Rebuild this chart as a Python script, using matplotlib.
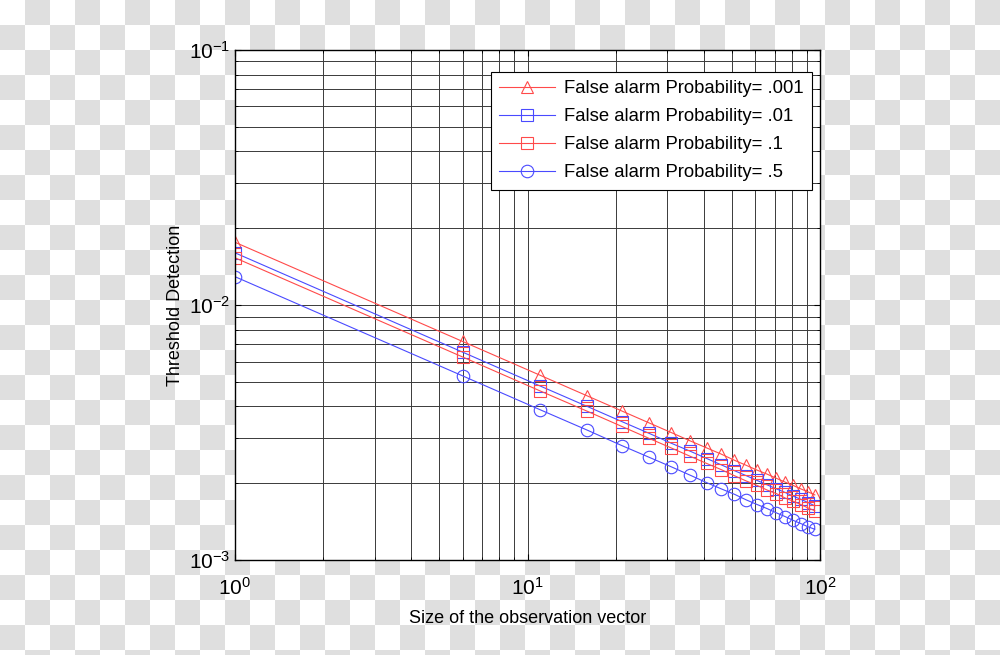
"""Threshold detection vs size of observation vector, log-log."""
import matplotlib
matplotlib.use("Agg")
import matplotlib.pyplot as plt
import numpy as np
from matplotlib.ticker import LogLocator, NullFormatter

plt.rcParams["font.family"] = ["Liberation Sans", "DejaVu Sans"]
plt.rcParams["mathtext.fontset"] = "custom"
plt.rcParams["mathtext.rm"] = "Liberation Sans"
plt.rcParams["mathtext.default"] = "rm"
plt.rcParams["axes.unicode_minus"] = False

# observation vector sizes
sizes = [1, 6, 11, 16, 21, 26, 31, 36, 41, 46, 51, 56, 61, 66, 71, 76, 81, 86, 91, 96]

# threshold values
pfa_001 = [0.0176, 0.00719, 0.00531, 0.00440, 0.00384, 0.00345, 0.00316, 0.00293, 0.00275, 0.00260,
           0.00246, 0.00235, 0.00225, 0.00217, 0.00209, 0.00202, 0.00196, 0.00190, 0.00185, 0.00180]
pfa_01 = [0.0160, 0.00653, 0.00482, 0.00400, 0.00349, 0.00314, 0.00287, 0.00267, 0.00250, 0.00236,
          0.00224, 0.00214, 0.00205, 0.00197, 0.00190, 0.00184, 0.00178, 0.00173, 0.00168, 0.00163]
pfa_1 = [0.0153, 0.00625, 0.00461, 0.00383, 0.00334, 0.00300, 0.00275, 0.00255, 0.00239, 0.00226,
         0.00214, 0.00204, 0.00196, 0.00188, 0.00182, 0.00175, 0.00170, 0.00165, 0.00160, 0.00156]
pfa_5 = [0.0129, 0.00527, 0.00389, 0.00323, 0.00281, 0.00253, 0.00232, 0.00215, 0.00201, 0.00190,
         0.00181, 0.00172, 0.00165, 0.00159, 0.00153, 0.00148, 0.00143, 0.00139, 0.00135, 0.00132]

labels = ["False alarm Probability= .001", "False alarm Probability= .01",
          "False alarm Probability= .1", "False alarm Probability= .5"]

RED = "#ff4a4a"
BLUE = "#4a4aff"

fig = plt.figure(figsize=(10, 6.55), dpi=100)

# checkerboard backdrop (transparent png look)
h, w = 655, 1000
yy, xx = np.mgrid[0:h, 0:w]
board = np.where(((yy // 25) + (xx // 25)) % 2 == 0, 1.0, 0.878)
fig.figimage(np.dstack([board, board, board]), origin="upper", zorder=-5)

ax = fig.add_axes([0.235, 0.145, 0.585, 0.779])
ax.set_zorder(2)
ax.set_facecolor("white")

styles = [(pfa_001, RED, "^"), (pfa_01, BLUE, "s"), (pfa_1, RED, "s"), (pfa_5, BLUE, "o")]
for (vals, col, mk), lab in zip(styles, labels):
    ax.plot(sizes, vals, color=col, marker=mk, markersize=9, markerfacecolor="none",
            markeredgewidth=0.8, linewidth=0.8, label=lab)

ax.set_xscale("log")
ax.set_yscale("log")
ax.set_xlim(1, 100)
ax.set_ylim(1e-3, 1e-1)

ax.xaxis.set_major_locator(LogLocator(base=10, numticks=10))
ax.yaxis.set_major_locator(LogLocator(base=10, numticks=10))
ax.xaxis.set_minor_locator(LogLocator(base=10, subs=np.arange(2, 10), numticks=20))
ax.yaxis.set_minor_locator(LogLocator(base=10, subs=np.arange(2, 10), numticks=20))
ax.xaxis.set_minor_formatter(NullFormatter())
ax.yaxis.set_minor_formatter(NullFormatter())

ax.grid(True, which="both", color="#3a3a3a", linewidth=0.7)
ax.tick_params(which="both", direction="in", top=True, right=True, labelsize=15)
ax.tick_params(which="major", length=4)
ax.tick_params(which="minor", length=2)
ax.tick_params(axis="x", pad=12)
for sp in ax.spines.values():
    sp.set_linewidth(1.0)

ax.set_xlabel("Size of the observation vector", fontsize=13, labelpad=8)
ax.set_ylabel("Threshold Detection", fontsize=13)
ax.yaxis.set_label_coords(-0.088, 0.5)

leg = ax.legend(loc="upper right", bbox_to_anchor=(0.986, 0.957), fontsize=13.3,
                fancybox=False, framealpha=1, edgecolor="black", handlelength=3.0,
                borderpad=0.45, labelspacing=0.6, handletextpad=0.5, borderaxespad=0)
leg.get_frame().set_linewidth(0.8)

fig.savefig("out.png", dpi=100)
